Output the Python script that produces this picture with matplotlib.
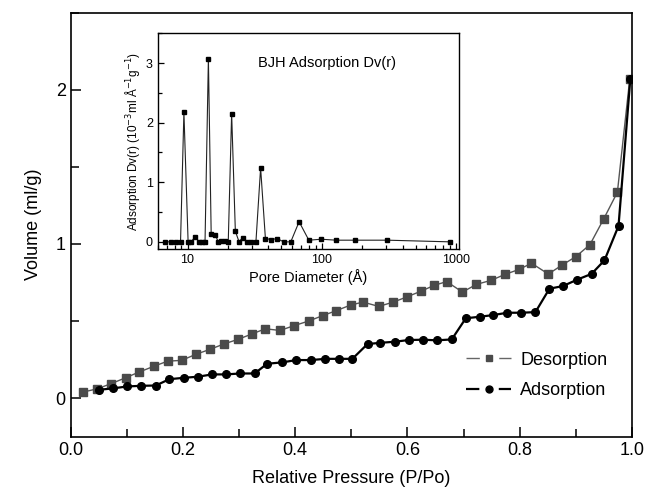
import numpy as np
import matplotlib.pyplot as plt
from matplotlib.lines import Line2D
from matplotlib.ticker import MultipleLocator, LogLocator, NullFormatter

plt.rcParams['font.family'] = ['Liberation Sans', 'DejaVu Sans']

# desorption branch (gray squares)
des_p = [0.022, 0.048, 0.073, 0.098, 0.122, 0.148, 0.173, 0.198, 0.223, 0.248,
         0.273, 0.298, 0.323, 0.347, 0.373, 0.398, 0.424, 0.449, 0.473, 0.499,
         0.521, 0.549, 0.575, 0.600, 0.625, 0.648, 0.670, 0.698, 0.723, 0.749,
         0.774, 0.799, 0.821, 0.851, 0.875, 0.900, 0.925, 0.950, 0.974, 0.996]
des_v = [0.039, 0.061, 0.095, 0.132, 0.169, 0.206, 0.240, 0.245, 0.284, 0.316,
         0.351, 0.381, 0.416, 0.450, 0.439, 0.470, 0.500, 0.535, 0.567, 0.604,
         0.623, 0.595, 0.623, 0.658, 0.695, 0.732, 0.756, 0.688, 0.738, 0.764,
         0.803, 0.835, 0.875, 0.805, 0.862, 0.918, 0.995, 1.165, 1.336, 2.07]

# adsorption branch (black circles)
ads_p = [0.050, 0.075, 0.101, 0.126, 0.152, 0.176, 0.202, 0.227, 0.252, 0.277,
         0.302, 0.328, 0.350, 0.377, 0.402, 0.428, 0.454, 0.479, 0.502, 0.529,
         0.552, 0.578, 0.602, 0.628, 0.653, 0.679, 0.704, 0.729, 0.753, 0.778,
         0.803, 0.828, 0.853, 0.877, 0.902, 0.928, 0.951, 0.976, 0.997]
ads_v = [0.054, 0.063, 0.076, 0.080, 0.082, 0.123, 0.132, 0.139, 0.154, 0.154,
         0.160, 0.160, 0.223, 0.232, 0.247, 0.247, 0.255, 0.255, 0.255, 0.351,
         0.359, 0.366, 0.377, 0.379, 0.375, 0.381, 0.518, 0.528, 0.539, 0.554,
         0.554, 0.558, 0.710, 0.727, 0.768, 0.806, 0.894, 1.117, 2.07]

# BJH pore size distribution (inset)
pore_d = [6.85, 7.5, 8.2, 8.87, 9.4, 10.1, 10.6, 11.4, 12.2, 12.9, 13.5, 14.3,
          15.0, 16.1, 16.9, 17.9, 19.0, 20.1, 21.3, 22.7, 24.2, 25.7, 27.5,
          29.8, 32.3, 35.0, 38.0, 42.1, 46.4, 52.0, 58.7, 67.7, 80.0, 98.9,
          128, 177, 307, 900]
dv = [0, 0, 0, 0, 2.175, 0, 0, 0.083, 0, 0, 0, 3.077,
      0.133, 0.122, 0, 0.022, 0.011, 0, 2.153, 0.177, 0, 0.072, 0,
      0, 0, 1.24, 0.055, 0.039, 0.055, 0, 0, 0.338, 0.028, 0.044,
      0.028, 0.028, 0.028, 0.0]

fig = plt.figure(figsize=(6.48, 4.92), dpi=100)
ax = fig.add_axes([0.1088, 0.1124, 0.8665, 0.8618])

ax.plot(des_p, des_v, '-', color='#555555', lw=1.0, marker='s', ms=6,
        mfc='#4a4a4a', mec='#4a4a4a')
ax.plot(ads_p, ads_v, '-', color='black', lw=1.6, marker='o', ms=5.5,
        mfc='black', mec='black')

ax.set_xlim(0, 1.0)
ax.set_ylim(-0.25, 2.5)
ax.xaxis.set_major_locator(MultipleLocator(0.2))
ax.xaxis.set_minor_locator(MultipleLocator(0.1))
ax.yaxis.set_major_locator(MultipleLocator(1))
ax.yaxis.set_minor_locator(MultipleLocator(0.5))
ax.xaxis.set_major_formatter(plt.FuncFormatter(lambda v, p: '%.1f' % v))
ax.tick_params(which='both', direction='in', labelsize=13, width=1.1)
ax.tick_params(which='major', length=7)
ax.tick_params(which='minor', length=6)
for s in ax.spines.values():
    s.set_linewidth(1.2)
ax.set_xlabel('Relative Pressure (P/Po)', fontsize=13, labelpad=8)
ax.set_ylabel('Volume (ml/g)', fontsize=13, labelpad=10)

# origin-style legend handles: dash, symbol, dash (dashes scale with lw)
h_des = Line2D([], [], color='#666666', lw=1.0, dashes=(9.6, 14), marker='s', ms=5,
               mfc='#4a4a4a', mec='#4a4a4a')
h_ads = Line2D([], [], color='black', lw=1.6, dashes=(6.0, 8.75), marker='o', ms=5,
               mfc='black', mec='black')
ax.legend([h_des, h_ads], ['Desorption', 'Adsorption'], loc='lower right',
          bbox_to_anchor=(0.985, 0.05), frameon=False, fontsize=13,
          handlelength=2.5, handletextpad=0.5, labelspacing=0.75)

# inset
ins = fig.add_axes([0.2434, 0.4939, 0.4650, 0.4384])
ins.plot(pore_d, dv, '-', color='#222222', lw=0.8, marker='s', ms=3.3,
         mfc='black', mec='black')
ins.set_xscale('log')
ins.set_xlim(6, 1050)
ins.set_ylim(-0.12, 3.5)
ins.yaxis.set_major_locator(MultipleLocator(1))
ins.yaxis.set_minor_locator(MultipleLocator(0.5))
ins.xaxis.set_major_locator(LogLocator(base=10))
ins.xaxis.set_minor_locator(LogLocator(base=10, subs=np.arange(2, 10)))
ins.xaxis.set_minor_formatter(NullFormatter())
ins.xaxis.set_major_formatter(plt.FuncFormatter(lambda v, p: '%d' % v))
ins.tick_params(which='both', direction='in', labelsize=9, width=0.9)
ins.tick_params(which='major', length=4)
ins.tick_params(which='minor', length=3)
for s in ins.spines.values():
    s.set_linewidth(1.0)
ins.set_xlabel('Pore Diameter (Å)', fontsize=10.5, labelpad=2)
ins.set_ylabel(r'Adsorption Dv(r) (10$^{-3}$ml Å$^{-1}$g$^{-1}$)', fontsize=8.5, labelpad=3)
ins.text(0.561, 0.861, 'BJH Adsorption Dv(r)', transform=ins.transAxes,
         ha='center', va='center', fontsize=10.5)

fig.savefig('out.png', dpi=100)
